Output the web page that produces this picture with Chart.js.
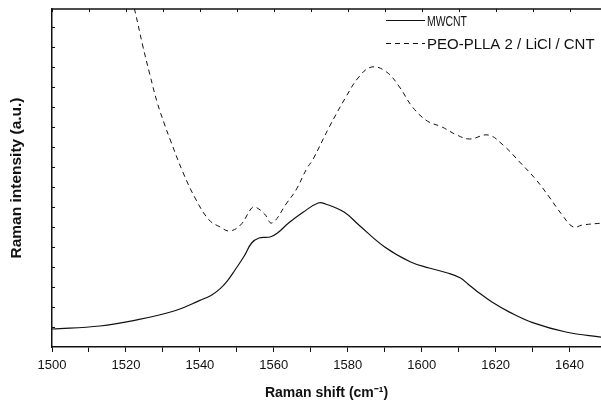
<!DOCTYPE html>
<html>
<head>
<meta charset="utf-8">
<script src="https://cdn.jsdelivr.net/npm/chart.js@4"></script>
<style>
  html, body { margin: 0; padding: 0; background: #fff; }
  #wrap { width: 601px; height: 402px; }
</style>
</head>
<body>
<div id="wrap"><canvas id="myGraph" width="601" height="402"></canvas></div>
<script>
// values (x = Raman shift, y = intensity in arbitrary units)
var mwcntX = [1500, 1513, 1522, 1533, 1540, 1543, 1545.5, 1547.5, 1549.5, 1552, 1554, 1556, 1559, 1561, 1564, 1568, 1572, 1574, 1579, 1583, 1590, 1597, 1602, 1607, 1610.5, 1612.5, 1615, 1619, 1624, 1630, 1639, 1649];
var mwcntY = [0.90, 1.05, 1.32, 1.80, 2.33, 2.58, 2.92, 3.32, 3.85, 4.55, 5.20, 5.45, 5.50, 5.70, 6.20, 6.75, 7.20, 7.15, 6.75, 6.10, 5.00, 4.25, 3.95, 3.70, 3.45, 3.15, 2.78, 2.25, 1.72, 1.22, 0.75, 0.48];

var peoX = [1521, 1522.5, 1524.5, 1526.5, 1528.5, 1530.5, 1532, 1535.5, 1539, 1542.5, 1545.5, 1548, 1551, 1554, 1555, 1557.5, 1559.5, 1563.5, 1566, 1569, 1570.5, 1575, 1579.5, 1583, 1586.5, 1590.5, 1594, 1597.5, 1601.5, 1605.5, 1609.5, 1613, 1618, 1622, 1626.5, 1631, 1634.5, 1638, 1641, 1643.5, 1649];
var peoY = [17.8, 16.75, 15.1, 13.6, 12.2, 11.1, 10.35, 8.7, 7.35, 6.35, 6.0, 5.8, 6.1, 6.95, 7.0, 6.65, 6.2, 7.2, 7.85, 8.95, 9.35, 11.0, 12.5, 13.5, 14.0, 13.75, 13.0, 12.0, 11.3, 11.0, 10.6, 10.4, 10.6, 10.1, 9.25, 8.35, 7.5, 6.6, 6.0, 6.1, 6.2];

var xTicks = [1500, 1510, 1520, 1530, 1540, 1550, 1560, 1570, 1580, 1590, 1600, 1610, 1620, 1630, 1640];
var yTicks = [1, 2, 3, 4, 5, 6, 7, 8, 9, 10, 11, 12, 13, 14, 15, 16];

function toPoints(xs, ys) {
    var pts = [];
    for (var i = 0; i < xs.length; i++) pts.push({x: xs[i], y: ys[i]});
    return pts;
}

// inward ticks on the left and top, the top frame line and the legend
var frameStuff = {
    id: 'frameStuff',
    afterDraw: function (chart) {
        var ctx = chart.ctx, a = chart.chartArea;
        var x = chart.scales.x, y = chart.scales.y;
        ctx.save();
        ctx.strokeStyle = '#111';
        ctx.lineWidth = 1;
        ctx.beginPath();
        yTicks.forEach(function (v) {
            var py = Math.round(y.getPixelForValue(v)) + 0.5;
            ctx.moveTo(a.left, py);
            ctx.lineTo(a.left + 3, py);
        });
        xTicks.forEach(function (v) {
            var px = Math.round(x.getPixelForValue(v)) + 0.5;
            ctx.moveTo(px, a.top);
            ctx.lineTo(px, a.top + 3);
        });
        ctx.stroke();
        ctx.lineWidth = 1.5;
        ctx.beginPath();
        ctx.moveTo(a.left, a.top);
        ctx.lineTo(a.right, a.top);
        ctx.stroke();

        // legend
        ctx.font = '15px "Liberation Sans", Arial, sans-serif';
        ctx.fillStyle = '#111';
        ctx.textBaseline = 'middle';
        var fits = [40, 168];
        chart.data.datasets.forEach(function (ds, i) {
            var ly = 20.5 + i * 23;
            ctx.lineWidth = ds.borderWidth;
            ctx.setLineDash(ds.borderDash || []);
            ctx.beginPath();
            ctx.moveTo(386, ly);
            ctx.lineTo(425, ly);
            ctx.stroke();
            ctx.setLineDash([]);
            ctx.fillText(ds.label, 427, ly + 1, fits[i]);
        });
        ctx.restore();
    }
};

var ctx = document.getElementById('myGraph');
var myChart = new Chart(ctx, {
    type: 'line',
    data: {
        datasets: [
            {
                label: 'MWCNT',
                data: toPoints(mwcntX, mwcntY),
                borderColor: '#111',
                borderWidth: 1.2,
                pointRadius: 0,
                tension: 0.4,
                fill: false
            },
            {
                label: 'PEO-PLLA 2 / LiCl / CNT',
                data: toPoints(peoX, peoY),
                borderColor: '#111',
                borderWidth: 1,
                borderDash: [5, 4],
                pointRadius: 0,
                tension: 0.4,
                fill: false
            }
        ]
    },
    options: {
        responsive: false,
        animation: false,
        layout: { padding: { top: 9, right: 0, left: 0, bottom: 0 } },
        plugins: {
            legend: { display: false },
            tooltip: { enabled: false }
        },
        scales: {
            x: {
                type: 'linear',
                min: 1500,
                max: 1648.5,
                afterBuildTicks: function (scale) {
                    scale.ticks = xTicks.map(function (v) { return {value: v}; });
                },
                afterFit: function (scale) { scale.height = 55; },
                ticks: {
                    autoSkip: false,
                    maxRotation: 0,
                    padding: 6,
                    color: '#111',
                    font: { family: '"Liberation Sans", Arial, sans-serif', size: 13 },
                    callback: function (v) { return v % 20 === 0 ? v : ''; }
                },
                grid: {
                    drawOnChartArea: false,
                    drawTicks: true,
                    tickLength: 5,
                    color: '#111',
                    lineWidth: 1
                },
                border: { display: true, color: '#111', width: 1.5 },
                title: {
                    display: true,
                    text: 'Raman shift (cm\u207B\u00B9)',
                    color: '#111',
                    font: { family: '"Liberation Sans", Arial, sans-serif', size: 14, weight: 'bold' },
                    padding: { top: 0, bottom: 0 }
                }
            },
            y: {
                min: 0,
                max: 16.9,
                afterBuildTicks: function (scale) {
                    scale.ticks = yTicks.map(function (v) { return {value: v}; });
                },
                afterFit: function (scale) { scale.width = 52; },
                ticks: { display: false },
                grid: { drawOnChartArea: false, drawTicks: false },
                border: { display: true, color: '#111', width: 1.5 },
                title: {
                    display: true,
                    text: 'Raman intensity (a.u.)',
                    color: '#111',
                    font: { family: '"Liberation Sans", Arial, sans-serif', size: 15.5, weight: 'bold' },
                    padding: { top: 7, bottom: 0 }
                }
            }
        }
    },
    plugins: [frameStuff]
});
</script>
</body>
</html>
